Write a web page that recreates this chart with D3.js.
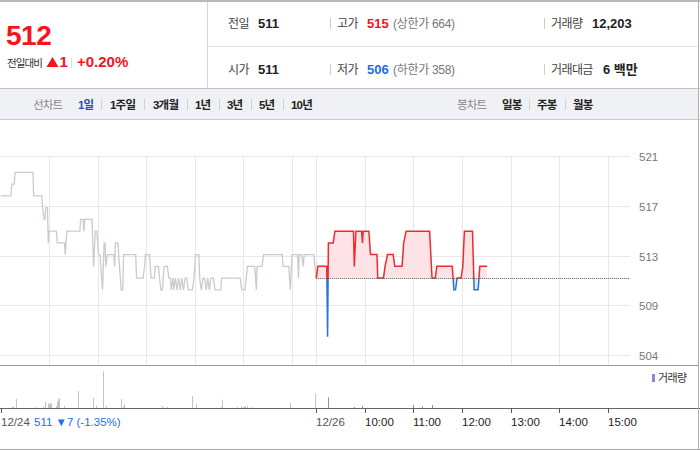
<!DOCTYPE html>
<html><head><meta charset="utf-8">
<script src="https://cdn.jsdelivr.net/npm/d3@7"></script>
<style>
body{margin:0;background:#fff;}
svg text{font-family:"Liberation Sans","Noto Sans CJK KR",Arial,sans-serif;}
</style></head><body>
<svg id="c" width="700" height="450"></svg>
<script>
// ---------- data ----------
const day1Times = ["09:00","09:13","09:14","09:17","09:18","09:40","09:41","09:51","09:52","09:54","09:55","09:56","09:58","09:59","10:00","10:09","10:10","10:19","10:20","10:22","10:38","10:39","10:42","10:43","10:44","10:53","10:55","10:57","10:59","11:01","11:03","11:06","11:08","11:09","11:10","11:12","11:20","11:21","11:22","11:25","11:26","11:29","11:31","11:32","11:47","11:48","11:56","11:58","11:59","12:04","12:06","12:10","12:11","12:15","12:18","12:20","12:22","12:26","12:28","12:30","12:31","12:33","12:34","12:36","12:38","12:40","12:42","12:44","12:46","12:48","12:50","12:52","12:57","12:59","13:01","13:05","13:06","13:08","13:10","13:12","13:14","13:16","13:18","13:20","13:23","13:25","13:32","13:33","13:56","13:58","14:02","14:05","14:14","14:16","14:17","14:23","14:25","14:48","14:49","14:56","14:58","15:00","15:07","15:08","15:09","15:12","15:14","15:15","15:27","15:30"];
const day1Prices = [518,518,519,519,520,520,518,518,517,516,516,517,517,514,515,515,514,514,513,515,515,516,516,515,516,516,512,515,515,513,513,510,514,514,512,513,513,512,514,514,513,510,510,513,513,511,511,512,513,513,511,511,512,512,510,510,512,512,511,511,510,511,510,511,510,511,510,511,510,511,511,510,510,511,513,513,511,510,511,511,510,511,510,511,511,510,510,511,511,510,510,512,512,510,512,512,513,513,512,512,510,513,513,511,513,513,512,513,513,511];
const day2Times = ["09:00","09:02","09:13","09:14","09:15","09:21","09:23","09:46","09:47","09:49","09:56","09:57","09:58","10:05","10:07","10:15","10:16","10:23","10:25","10:28","10:35","10:37","10:46","10:48","10:51","11:20","11:23","11:27","11:29","11:48","11:50","11:52","11:54","11:59","12:01","12:03","12:13","12:15","12:20","12:22","12:31"];
const day2Prices = [511,512,512,506,514,514,515,515,512,515,515,514,515,515,513,513,511,511,512,513,513,512,512,514,515,515,511,511,512,512,510,510,511,511,512,515,515,510,510,512,512];
const vol1Times = ["09:14","09:15","09:19","09:44","09:53","09:55","09:59","10:00","10:01","10:02","10:09","10:10","10:11","10:12","10:18","10:36","10:54","10:58","11:06","11:10","11:29","11:31","11:32","12:19","12:26","12:56","13:01","13:32","13:33","13:52","13:57","13:59","14:01","14:02","14:04","14:05","14:09","14:58","15:29"];
const vol1Values = [900,500,4800,500,500,3200,2500,1800,2500,2500,900,3400,4600,5300,1100,9000,5300,1200,19100,1100,4800,700,2000,1100,500,6400,2000,500,4400,500,700,500,700,900,1200,700,500,2700,7600];
const vol2Times = ["09:14","09:15","09:47","09:57","10:59","11:10","11:23"];
const vol2Values = [903,5600,500,1100,1600,900,1600];
const prevClose = 511;
const yDomain = [504.45, 521.4];
const yTickLabels = ["521","517","513","509","504"];
const gridDays = [0,0,0,0,0,0,1,1,1,1,1,1,1];
const gridTimes = ["10:00","11:00","12:00","13:00","14:00","15:00","09:00","10:00","11:00","12:00","13:00","14:00","15:00"];
const xTickDays = [0,1,1,1,1,1,1,1];
const xTickTimes = ["09:00","09:00","10:00","11:00","12:00","13:00","14:00","15:00"];
const xTickLabels = ["12/24","12/26","10:00","11:00","12:00","13:00","14:00","15:00"];

// ---------- setup ----------
const svg = d3.select("#c");
const x = d3.scaleLinear().domain([0, 780]).range([0.5, 632]);
const y = d3.scaleLinear().domain(yDomain).range([355, 156]);
const yv = d3.scaleLinear().domain([0, 22000]).range([408, 366]);
const mins = t => { const [h, m] = t.split(":").map(Number); return (h - 9) * 60 + m; };
const tx = (day, t) => x(day * 390 + mins(t));

// ---------- header ----------
const hdr = svg.append("g");
hdr.append("rect").attr("x",0).attr("y",0).attr("width",700).attr("height",2).attr("fill","#b9b9b9");
hdr.append("line").attr("x1",207.5).attr("x2",207.5).attr("y1",2).attr("y2",88).attr("stroke","#d6d6d6");
hdr.append("line").attr("x1",208).attr("x2",698).attr("y1",46.5).attr("y2",46.5).attr("stroke","#e4e4e4");
hdr.append("text").attr("x",6).attr("y",45).attr("font-size",28).attr("font-weight","bold").attr("fill","#f5141c").attr("letter-spacing",-0.5).text("512");
hdr.append("text").attr("x",7).attr("y",67).attr("font-size",10.5).attr("fill","#333").attr("letter-spacing",-0.9).text("전일대비");
hdr.append("path").attr("d","M52.5,57 L58.5,67 L46.5,67 Z").attr("fill","#f5141c");
hdr.append("text").attr("x",59.5).attr("y",67).attr("font-size",15).attr("font-weight","bold").attr("fill","#f5141c").text("1");
hdr.append("line").attr("x1",71.5).attr("x2",71.5).attr("y1",58).attr("y2",68).attr("stroke","#ddd");
hdr.append("text").attr("x",77).attr("y",67).attr("font-size",15).attr("font-weight","bold").attr("fill","#f5141c").text("+0.20%");

function rowItem(xp, yp, label, val, valColor, extra){
  hdr.append("text").attr("x",xp).attr("y",yp).attr("font-size",12).attr("fill","#444").attr("letter-spacing",-0.6).text(label);
  hdr.append("text").attr("x",xp + (label.length>2 ? label.length*11 + 8 : 30)).attr("y",yp).attr("font-size",13).attr("font-weight","bold").attr("fill",valColor).text(val);
  if (extra) hdr.append("text").attr("x",xp+56).attr("y",yp).attr("font-size",12).attr("fill","#777").attr("letter-spacing",-0.3).text(extra);
}
rowItem(228,28,"전일","511","#222");
rowItem(337,28,"고가","515","#f5141c","(상한가 664)");
rowItem(551,28,"거래량","12,203","#222");
rowItem(228,74,"시가","511","#222");
rowItem(337,74,"저가","506","#1f6ee0","(하한가 358)");
rowItem(551,74,"거래대금","6 백만","#222");
[330.5,544.5].forEach(sx=>{
  [[18,29],[64,75]].forEach(r=>hdr.append("line").attr("x1",sx).attr("x2",sx).attr("y1",r[0]).attr("y2",r[1]).attr("stroke","#ccc"));
});

// ---------- tab bar ----------
hdr.append("rect").attr("x",0).attr("y",88).attr("width",698).attr("height",32).attr("fill","#f0f1f5");
hdr.append("line").attr("x1",0).attr("x2",700).attr("y1",88.5).attr("y2",88.5).attr("stroke","#c4c4c4");
hdr.append("line").attr("x1",0).attr("x2",700).attr("y1",119.5).attr("y2",119.5).attr("stroke","#c9c9c9");
const tabs = [["선차트",33,"#888","normal"],["1일",78,"#2b4fb5","bold"],["1주일",110,"#222","bold"],["3개월",153,"#222","bold"],["1년",195,"#222","bold"],["3년",227,"#222","bold"],["5년",259,"#222","bold"],["10년",291,"#222","bold"],
  ["봉차트",457,"#888","normal"],["일봉",502,"#222","bold"],["주봉",537,"#222","bold"],["월봉",573,"#222","bold"]];
tabs.forEach(t=>hdr.append("text").attr("x",t[1]).attr("y",109).attr("font-size",11.5).attr("fill",t[2]).attr("font-weight",t[3]).attr("letter-spacing",-0.8).text(t[0]));
[101.5,144.5,187.5,219.5,251.5,283.5,529.5,565.5].forEach(sx=>hdr.append("line").attr("x1",sx).attr("x2",sx).attr("y1",99).attr("y2",110).attr("stroke","#d0d0d0"));

// ---------- price chart ----------
const grid = svg.append("g");
const yTicks = d3.range(5).map(i => yDomain[1] - i * (yDomain[1] - yDomain[0]) / 4);
yTicks.forEach((v, i) => {
  const yy = Math.round(y(v)) + 0.5;
  grid.append("line").attr("x1",0).attr("x2",630).attr("y1",yy).attr("y2",yy).attr("stroke","#e8e8e8");
  grid.append("text").attr("x",639).attr("y",yy+4).attr("font-size",11.5).attr("fill","#777").text(yTickLabels[i]);
});
gridTimes.forEach((t, i) => {
  const xx = Math.round(tx(gridDays[i], t)) + 0.5;
  grid.append("line").attr("x1",xx).attr("x2",xx).attr("y1",156).attr("y2",365).attr("stroke","#e8e8e8");
});

const d1 = day1Times.map((t, i) => ({x: tx(0, t), v: day1Prices[i]}));
const d2 = day2Times.map((t, i) => ({x: tx(1, t), v: day2Prices[i]}));
const yBase = y(prevClose);

const defs = svg.append("defs");
defs.append("clipPath").attr("id","above").append("rect").attr("x",0).attr("y",0).attr("width",700).attr("height",yBase+1);
defs.append("clipPath").attr("id","below").append("rect").attr("x",0).attr("y",yBase+1).attr("width",700).attr("height",450);

const area = d3.area().x(d => d.x).y0(yBase).y1(d => y(d.v));
const line = d3.line().x(d => d.x).y(d => y(d.v));

svg.append("path").datum(d2).attr("d", area).attr("fill","#fde3e6").attr("clip-path","url(#above)");
svg.append("path").datum(d2).attr("d", area).attr("fill","#e1eaf8").attr("clip-path","url(#below)");
svg.append("path").datum(d1).attr("d", line).attr("fill","none").attr("stroke","#c8cbd0").attr("stroke-width",1.3);
svg.append("path").datum(d2).attr("d", line).attr("fill","none").attr("stroke","#ee2a2f").attr("stroke-width",1.5).attr("clip-path","url(#above)");
svg.append("path").datum(d2).attr("d", line).attr("fill","none").attr("stroke","#2b73d8").attr("stroke-width",1.5).attr("clip-path","url(#below)");
svg.append("line").attr("x1",tx(1,"09:00")).attr("x2",630).attr("y1",Math.round(yBase)+0.5).attr("y2",Math.round(yBase)+0.5)
  .attr("stroke","#555").attr("stroke-dasharray","1,1");

svg.append("line").attr("x1",0).attr("x2",698).attr("y1",365.5).attr("y2",365.5).attr("stroke","#9a9a9a");

// ---------- volume ----------
const vg = svg.append("g");
vol1Times.forEach((t, i) => {
  vg.append("rect").attr("x",Math.round(tx(0,t))).attr("y",yv(vol1Values[i])).attr("width",1).attr("height",yv(0)-yv(vol1Values[i])).attr("fill","#c4c4c6");
});
vol2Times.forEach((t, i) => {
  vg.append("rect").attr("x",Math.round(tx(1,t))).attr("y",yv(vol2Values[i])).attr("width",1).attr("height",yv(0)-yv(vol2Values[i])).attr("fill","#9a84cc");
});
vg.append("rect").attr("x",652).attr("y",374).attr("width",3).attr("height",8).attr("fill","#9a84cc");
vg.append("text").attr("x",658).attr("y",382).attr("font-size",11).attr("fill","#333").attr("letter-spacing",-0.6).text("거래량");

// ---------- x axis ----------
const ax = svg.append("g");
ax.append("line").attr("x1",0).attr("x2",700).attr("y1",408.5).attr("y2",408.5).attr("stroke","#666");
xTickTimes.forEach((t, i) => {
  const xx = Math.round(tx(xTickDays[i], t)) + 0.5;
  ax.append("line").attr("x1",xx).attr("x2",xx).attr("y1",408).attr("y2",413).attr("stroke","#555");
  ax.append("text").attr("x",xx - 0.5).attr("y",426).attr("font-size",11.5)
    .attr("fill", i < 2 ? "#555" : "#222").text(xTickLabels[i]);
});
ax.append("text").attr("x",34).attr("y",426).attr("font-size",11.5).attr("fill","#1f6ee0").text("511 ▼7 (-1.35%)");

svg.append("line").attr("x1",698.5).attr("x2",698.5).attr("y1",0).attr("y2",450).attr("stroke","#b0b0b0");
svg.append("line").attr("x1",0).attr("x2",700).attr("y1",449.5).attr("y2",449.5).attr("stroke","#aaa");
</script></body></html>
